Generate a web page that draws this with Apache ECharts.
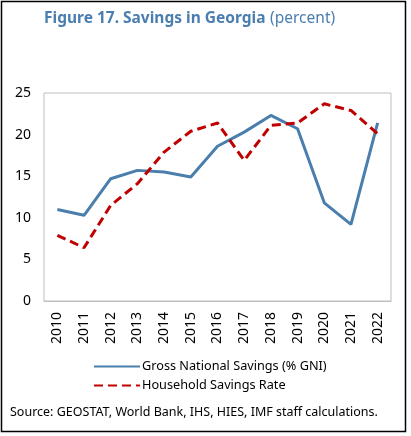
<!DOCTYPE html>
<html><head><meta charset="utf-8">
<script src="https://cdn.jsdelivr.net/npm/echarts@6/dist/echarts.min.js"></script>
<style>html,body{margin:0;padding:0;background:#fff}#c{width:411px;height:436px}</style>
</head><body><div id="c"></div>
<script>
const years = ['2010','2011','2012','2013','2014','2015','2016','2017','2018','2019','2020','2021','2022'];
const grossNational = [11.0, 10.3, 14.7, 15.7, 15.5, 14.9, 18.6, 20.3, 22.3, 20.7, 11.8, 9.2, 21.4];
const household = [7.9, 6.4, 11.5, 14.1, 17.9, 20.4, 21.4, 16.9, 21.1, 21.4, 23.7, 22.9, 20.1];
const yTicks = [0, 5, 10, 15, 20, 25];
const seriesNames = ['Gross National Savings (% GNI)', 'Household Savings Rate'];
const FONT = 'Noto Sans';
const chart = echarts.init(document.getElementById('c'), null, {renderer: 'canvas'});
chart.setOption({
  animation: false,
  backgroundColor: '#fff',
  textStyle: {fontFamily: FONT},
  title: {
    left: 39, top: 5,
    text: '{b|Figure 17. Savings in Georgia} {n|(percent)}',
    textStyle: {fontWeight: 'normal', rich: {
      b: {fontFamily: FONT, fontWeight: 'bold', fontSize: 15.5, color: '#4A7EB0'},
      n: {fontFamily: FONT, fontWeight: 'normal', fontSize: 15.5, color: '#4A7EB0'}
    }}
  },
  graphic: [
    {type: 'rect', shape: {x: 1.5, y: 1.5, width: 404, height: 430}, style: {fill: 'none', stroke: '#000', lineWidth: 1.5}, silent: true},
    {type: 'text', left: 10, top: 406, style: {text: 'Source: GEOSTAT, World Bank, IHS, HIES, IMF staff calculations.', fontFamily: FONT, fontSize: 12.5, fill: '#000'}}
  ],
  grid: {left: 44, right: 20, top: 93, bottom: 135, show: true, borderColor: '#BFBFBF', borderWidth: 1},
  legend: {
    orient: 'vertical', left: 88, top: 355, itemWidth: 46, itemHeight: 3, itemGap: 6,
    itemStyle: {opacity: 0},
    textStyle: {fontFamily: FONT, fontSize: 12.7, color: '#000', padding: [0, 0, 0, -3]},
    data: seriesNames
  },
  xAxis: {
    type: 'category', data: years, boundaryGap: true,
    axisLine: {lineStyle: {color: '#BFBFBF'}},
    axisTick: {inside: true, length: 5, lineStyle: {color: '#BFBFBF'}},
    axisLabel: {rotate: 90, fontSize: 14, color: '#000', margin: 11, fontFamily: FONT}
  },
  yAxis: {
    type: 'value', min: 0, max: 25, interval: 5,
    axisLine: {show: false}, axisTick: {show: false}, splitLine: {show: false},
    axisLabel: {fontSize: 14, color: '#000', margin: 13, fontFamily: FONT}
  },
  series: [
    {name: seriesNames[0], type: 'line', data: grossNational, showSymbol: false, symbol: 'none',
     lineStyle: {color: '#4A7EAC', width: 3}, itemStyle: {color: '#4A7EAC'}},
    {name: seriesNames[1], type: 'line', data: household, showSymbol: false, symbol: 'none',
     lineStyle: {color: '#C00000', width: 3, type: [9, 5]}, itemStyle: {color: '#C00000'}}
  ]
});
</script></body></html>
